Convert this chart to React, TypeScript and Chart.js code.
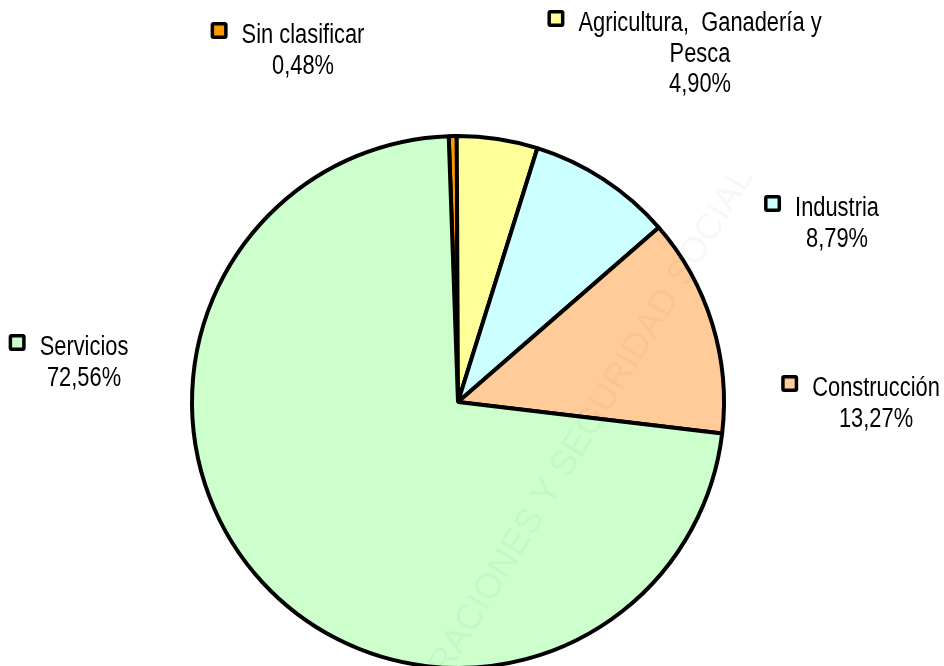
import React, { useEffect, useRef } from "react";
import { Chart, registerables } from "chart.js";

Chart.register(...registerables);

const categories = ["Sin clasificar", "Agricultura, Ganadería y Pesca", "Industria", "Construcción", "Servicios"];
const labelLines = [["Sin clasificar"], ["Agricultura,  Ganadería y", "Pesca"], ["Industria"], ["Construcción"], ["Servicios"]];
const values = [0.48, 4.9, 8.79, 13.27, 72.56];
const colors = ["#FF9900", "#FFFF99", "#CCFFFF", "#FFCC99", "#CCFFCC"];

// label placement (text centre x, first baseline y)
const labelPos = [
  { cx: 303, by: 43 },
  { cx: 700, by: 31 },
  { cx: 837, by: 216 },
  { cx: 876, by: 396 },
  { cx: 84, by: 355 },
];

const FONT = "27px 'Liberation Sans', Arial, sans-serif";
const SX = 0.81;
const LINE_H = 30.5;

const fmt = (v: number) => v.toFixed(2).replace(".", ",") + "%";

const labelsPlugin = {
  id: "excelLabels",
  afterDatasetsDraw(chart: any) {
    const ctx = chart.ctx as CanvasRenderingContext2D;
    ctx.save();
    // faint watermark
    ctx.save();
    ctx.translate(754, 176);
    ctx.rotate((-58.5 * Math.PI) / 180);
    ctx.font = "36px 'Liberation Sans', Arial, sans-serif";
    ctx.fillStyle = "rgba(0,0,0,0.03)";
    ctx.textAlign = "right";
    ctx.textBaseline = "alphabetic";
    ctx.fillText("MINISTERIO DE TRABAJO, MIGRACIONES Y SEGURIDAD SOCIAL", 0, 0);
    ctx.restore();

    ctx.font = FONT;
    ctx.textAlign = "center";
    ctx.textBaseline = "alphabetic";
    categories.forEach((_, i) => {
      const p = labelPos[i];
      const lines = [...labelLines[i], fmt(values[i])];
      ctx.fillStyle = "#000";
      lines.forEach((t, k) => {
        ctx.save();
        ctx.translate(p.cx, p.by + k * LINE_H);
        ctx.scale(SX, 1);
        ctx.fillText(t, 0, 0);
        ctx.restore();
      });
      const w = ctx.measureText(lines[0]).width * SX;
      const kx = p.cx - w / 2 - 15 - 16;
      const ky = p.by - 21;
      ctx.fillStyle = "#000";
      ctx.beginPath();
      (ctx as any).roundRect ? (ctx as any).roundRect(kx, ky, 17, 17, 3) : ctx.rect(kx, ky, 17, 17);
      ctx.fill();
      ctx.fillStyle = colors[i];
      ctx.fillRect(kx + 3.5, ky + 3.5, 10, 10);
    });
    ctx.restore();
  },
};

export default function App() {
  const ref = useRef<HTMLCanvasElement>(null);
  useEffect(() => {
    if (!ref.current) return;
    const chart = new Chart(ref.current, {
      type: "pie",
      data: {
        labels: categories,
        datasets: [
          {
            data: values,
            backgroundColor: colors,
            borderColor: "#000",
            borderWidth: 4,
            hoverOffset: 0,
          },
        ],
      },
      options: {
        responsive: false,
        animation: false,
        rotation: -2,
        layout: { padding: { left: 190, right: 218, top: 134, bottom: 10 } },
        plugins: { legend: { display: false }, tooltip: { enabled: false } },
        events: [],
      },
      plugins: [labelsPlugin],
    });
    return () => chart.destroy();
  }, []);
  return (
    <div style={{ position: "fixed", left: 0, top: 0, width: 944, height: 666, overflow: "hidden", background: "#fff" }}>
      <canvas ref={ref} width={944} height={680} style={{ display: "block" }} />
    </div>
  );
}
